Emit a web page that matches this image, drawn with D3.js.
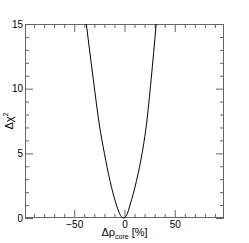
<!DOCTYPE html>
<html>
<head>
<meta charset="utf-8">
<script src="https://cdn.jsdelivr.net/npm/d3@7"></script>
<style>
  body { margin: 0; background: #fff; }
  svg { display: block; font-family: "Liberation Sans", Arial, sans-serif; }
</style>
</head>
<body>
<div id="chart"></div>
<script>
// curve
const rho = [-38, -31, -25, -20, -14.5, -8, -4, -1, 2, 5.5, 12, 17.5, 21.8, 26.5, 31.5];
const chi2 = [15, 10.7, 7.2, 5, 2.9, 1, 0.2, 0, 0.2, 1, 2.9, 5, 7.2, 10.7, 15];
const xMajor = [-50, 0, 50];
const xMinor = [-90, -80, -70, -60, -40, -30, -20, -10, 10, 20, 30, 40, 60, 70, 80, 90];
const yMajor = [0, 5, 10, 15];
const yMinor = [1, 2, 3, 4, 6, 7, 8, 9, 11, 12, 13, 14];

const width = 249, height = 243;
const margin = {top: 24, right: 25, bottom: 25, left: 25};

const svg = d3.select("#chart").append("svg")
    .attr("width", width)
    .attr("height", height);

const x = d3.scaleLinear().domain([-99, 99]).range([margin.left, width - margin.right]);
const y = d3.scaleLinear().domain([0, 15]).range([height - margin.bottom, margin.top]);

const axisColor = "#666";

// frame
svg.append("rect")
    .attr("x", margin.left + 0.5)
    .attr("y", margin.top + 0.5)
    .attr("width", width - margin.left - margin.right - 1)
    .attr("height", height - margin.top - margin.bottom - 1)
    .attr("fill", "none")
    .attr("stroke", axisColor);

function styleAxis(g) {
    g.select(".domain").remove();
    g.selectAll(".tick line").attr("stroke", axisColor);
    g.selectAll(".tick text").attr("fill", "#000").attr("font-size", 10)
        .attr("font-family", "Liberation Sans, Arial, sans-serif");
}

const fmt = d => d < 0 ? "\u2212" + Math.abs(d) : String(d);

// bottom axis
svg.append("g").attr("transform", `translate(0,${height - margin.bottom})`)
    .call(d3.axisBottom(x).tickValues(xMajor).tickSizeInner(-8).tickSizeOuter(0).tickPadding(3).tickFormat(fmt))
    .call(styleAxis);
svg.append("g").attr("transform", `translate(0,${height - margin.bottom})`)
    .call(d3.axisBottom(x).tickValues(xMinor).tickSizeInner(-4).tickSizeOuter(0).tickFormat(""))
    .call(styleAxis);
// top axis
svg.append("g").attr("transform", `translate(0,${margin.top})`)
    .call(d3.axisTop(x).tickValues(xMajor).tickSizeInner(-8).tickSizeOuter(0).tickFormat(""))
    .call(styleAxis);
svg.append("g").attr("transform", `translate(0,${margin.top})`)
    .call(d3.axisTop(x).tickValues(xMinor).tickSizeInner(-4).tickSizeOuter(0).tickFormat(""))
    .call(styleAxis);
// left axis
svg.append("g").attr("transform", `translate(${margin.left},0)`)
    .call(d3.axisLeft(y).tickValues(yMajor).tickSizeInner(-8).tickSizeOuter(0).tickPadding(2).tickFormat(d3.format("d")))
    .call(styleAxis);
svg.append("g").attr("transform", `translate(${margin.left},0)`)
    .call(d3.axisLeft(y).tickValues(yMinor).tickSizeInner(-4).tickSizeOuter(0).tickFormat(""))
    .call(styleAxis);
// right axis
svg.append("g").attr("transform", `translate(${width - margin.right},0)`)
    .call(d3.axisRight(y).tickValues(yMajor).tickSizeInner(-8).tickSizeOuter(0).tickFormat(""))
    .call(styleAxis);
svg.append("g").attr("transform", `translate(${width - margin.right},0)`)
    .call(d3.axisRight(y).tickValues(yMinor).tickSizeInner(-4).tickSizeOuter(0).tickFormat(""))
    .call(styleAxis);

// curve
const data = rho.map((r, i) => ({x: r, y: chi2[i]}));
svg.append("path")
    .datum(data)
    .attr("fill", "none")
    .attr("stroke", "#000")
    .attr("stroke-width", 1)
    .attr("d", d3.line().x(d => x(d.x)).y(d => y(d.y)).curve(d3.curveMonotoneX));

// axis titles
const xt = svg.append("text")
    .attr("x", (margin.left + width - margin.right) / 2)
    .attr("y", 236)
    .attr("text-anchor", "middle")
    .attr("font-size", 11);
xt.append("tspan").text("\u0394\u03c1");
xt.append("tspan").attr("font-size", 7).attr("dy", 3).text("core");
xt.append("tspan").attr("dy", -3).text(" [%]");

const yt = svg.append("text")
    .attr("transform", `translate(13,${(margin.top + height - margin.bottom) / 2}) rotate(-90)`)
    .attr("text-anchor", "middle")
    .attr("font-size", 11);
yt.append("tspan").text("\u0394\u03c7");
yt.append("tspan").attr("font-size", 7).attr("dy", -5).text("2");
</script>
</body>
</html>
